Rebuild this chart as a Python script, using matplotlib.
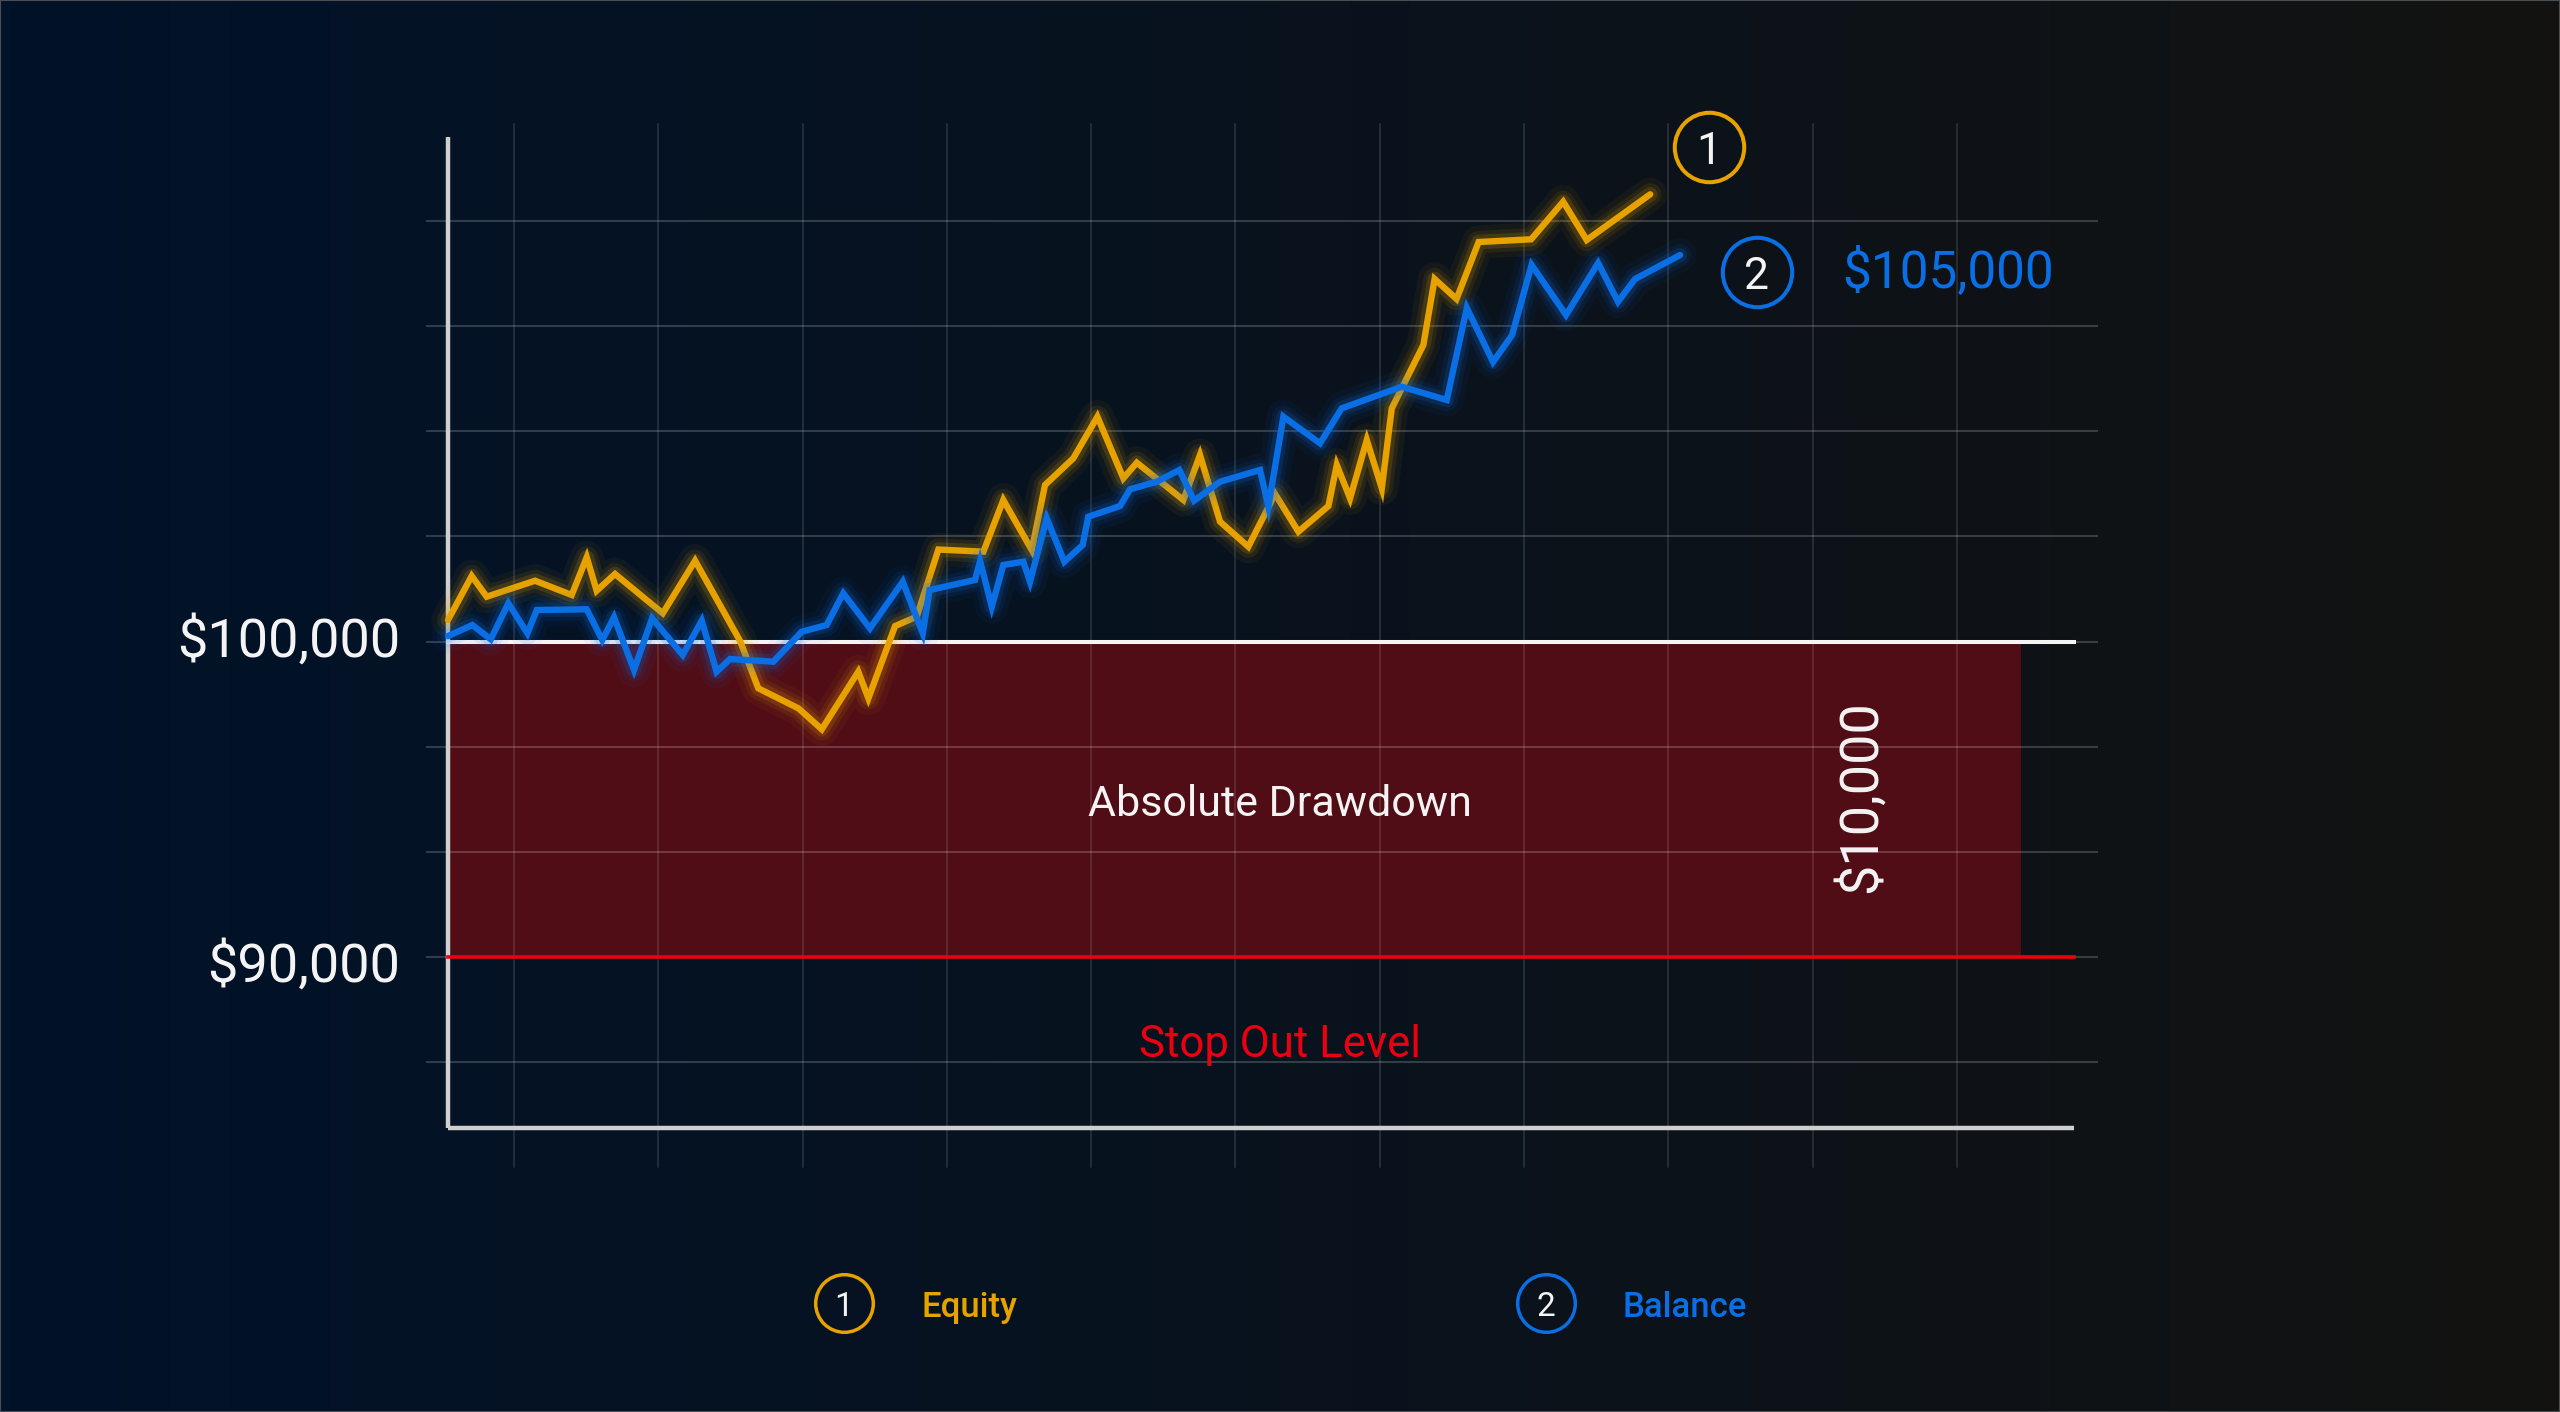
import numpy as np
import matplotlib
matplotlib.use("Agg")
import matplotlib.pyplot as plt
from matplotlib.colors import LinearSegmentedColormap
from matplotlib.patches import Rectangle

plt.rcParams['font.family'] = ['Roboto', 'DejaVu Sans']

# ---------------- data ----------------
equity_x = [0, 1.64, 2.68, 6.03, 8.57, 9.61, 10.30, 11.57, 14.88, 17.12, 20.24, 21.50,
            24.28, 25.90, 28.43, 29.13, 30.98, 32.48, 33.98, 37.10, 38.48, 40.45, 41.37,
            43.33, 45.00, 46.80, 47.73, 50.96, 52.11, 53.50, 55.46, 57.31, 58.93, 61.01,
            61.59, 62.51, 63.67, 64.71, 65.40, 67.59, 68.37, 69.89, 71.42, 75.06, 77.28,
            78.91, 83.31]
equity_y = [100682, 102076, 101420, 101927, 101474, 102669, 101610, 102140, 100894, 102561,
            100016, 98516, 97882, 97217, 99043, 98199, 100491, 100786, 102916, 102847,
            104486, 102901, 104961, 105807, 107126, 105173, 105668, 104486, 105912, 103798,
            103005, 104676, 103481, 104295, 105595, 104539, 106388, 104856, 107392, 109399,
            111491, 110857, 112664, 112750, 113942, 112728, 114176]

balance_x = [0, 1.68, 2.96, 4.18, 5.50, 6.15, 9.61, 10.69, 11.50, 12.89, 14.14, 16.26,
             17.58, 18.61, 19.54, 22.54, 24.51, 26.24, 27.39, 29.24, 31.51, 32.90, 33.37,
             36.52, 36.87, 37.68, 38.48, 39.87, 40.33, 41.49, 42.71, 43.98, 44.37, 46.57,
             47.26, 49.11, 50.68, 51.70, 53.50, 56.27, 56.85, 57.89, 60.43, 61.93, 66.09,
             69.21, 70.60, 72.42, 73.74, 75.09, 77.48, 79.70, 81.08, 82.26, 85.38]
balance_y = [100174, 100523, 100070, 101211, 100260, 100999, 101021, 100048, 100767, 99097,
             100735, 99572, 100659, 99043, 99445, 99360, 100311, 100523, 101528, 100418,
             101896, 100260, 101633, 101950, 102552, 101103, 102425, 102530, 101896, 103905,
             102530, 103059, 103956, 104295, 104825, 105066, 105437, 104463, 105066, 105437,
             104273, 107126, 106283, 107392, 108077, 107656, 110572, 108860, 109716, 111935,
             110350, 111998, 110772, 111491, 112252]

balance_level = 100000
stop_out_level = 90000
drawdown = balance_level - stop_out_level
ytick_labels = ['$100,000', '$90,000']
grid_y = [86667, 90000, 93333, 96667, 100000, 103333, 106667, 110000, 113333]
grid_x = [4.57 + 10 * k for k in range(11)]
series_names = ['Equity', 'Balance']
final_label = '$105,000'
drawdown_label = '$10,000'

# ---------------- styling ----------------
ORANGE = '#e7a200'
BLUE = '#0a6ee4'
RED = '#ec0010'
WHITE = '#f4f4f4'
SPINE = '#cfcfcf'

fig = plt.figure(figsize=(25.6, 14.12), dpi=100)
ax = fig.add_axes([0, 0, 1, 1])
X0, X1 = -31.05, 146.36
Y0, Y1 = 75575, 120336
ax.set_xlim(X0, X1)
ax.set_ylim(Y0, Y1)
ax.axis('off')

# background gradient
cmap = LinearSegmentedColormap.from_list('bg', [(0, '#011329'), (0.45, '#08121f'), (1.0, '#131211')])
grad = np.linspace(0, 1, 512).reshape(1, -1)
ax.imshow(grad, extent=[X0, X1, Y0, Y1], aspect='auto', cmap=cmap, zorder=0)

# thin frame border
fig.patches.append(Rectangle((0, 0), 1, 1, transform=fig.transFigure, fill=False,
                             edgecolor='#4a4d52', lw=1.5, zorder=10))

# drawdown rectangle
ax.add_patch(Rectangle((0, stop_out_level), 109.0, drawdown, facecolor='#510d16',
                       edgecolor='none', zorder=1))

# grid
for gy in grid_y:
    ax.plot([-1.46, 114.3], [gy, gy], color='white', alpha=0.18, lw=1.5, zorder=2)
for gx in grid_x:
    ax.plot([gx, gx], [83333, 116400], color='white', alpha=0.14, lw=1.1, zorder=2)

# spines
ax.plot([0, 0], [84578, 116000], color=SPINE, lw=3.2, zorder=3, solid_capstyle='butt')
ax.plot([0, 112.7], [84578, 84578], color=SPINE, lw=3.2, zorder=3, solid_capstyle='butt')

# level lines
ax.plot([0, 112.7], [balance_level, balance_level], color=WHITE, lw=2.9, zorder=4)
ax.plot([0, 112.7], [stop_out_level, stop_out_level], color=RED, lw=2.6, zorder=4)

# glowing series
def glow_line(x, y, color, z):
    for w, a in [(24, 0.05), (16, 0.09), (10.5, 0.16)]:
        ax.plot(x, y, color=color, lw=w, alpha=a, zorder=z, solid_joinstyle='round',
                solid_capstyle='round')
    ax.plot(x, y, color=color, lw=4.6, zorder=z + 0.5, solid_joinstyle='miter',
            solid_capstyle='round')

glow_line(equity_x, equity_y, ORANGE, 5)
glow_line(balance_x, balance_y, BLUE, 6)

# y labels
ax.text(-3.33, 99518, ytick_labels[0], color=WHITE, fontsize=39, ha='right', va='baseline', zorder=7)
ax.text(-3.33, 89216, ytick_labels[1], color=WHITE, fontsize=39, ha='right', va='baseline', zorder=7)

# annotations
ax.text(57.66, 94468, 'Absolute Drawdown', color=WHITE, fontsize=31, ha='center', va='baseline', zorder=7)
ax.text(57.66, 86829, 'Stop Out Level', color=RED, fontsize=31.5, ha='center', va='baseline', zorder=7)
ax.text(97.92, 95071, drawdown_label, color=WHITE, fontsize=39, ha='center', va='center',
        rotation=90, zorder=7)

# end markers
ax.plot([87.39], [115676], 'o', ms=50, mfc='none', mec=ORANGE, mew=2.9, zorder=7)
ax.text(87.39, 115676, '1', color=WHITE, fontsize=32, ha='center', va='center_baseline', zorder=8)
ax.plot([90.71], [111713], 'o', ms=50, mfc='none', mec=BLUE, mew=2.9, zorder=7)
ax.text(90.71, 111713, '2', color=WHITE, fontsize=32, ha='center', va='center_baseline', zorder=8)
ax.text(96.6, 111247, final_label, color=BLUE, fontsize=37, ha='left', va='baseline', zorder=7)

# legend
for cx, num, name, col, tx in [(27.42, '1', series_names[0], ORANGE, 32.84),
                               (76.06, '2', series_names[1], BLUE, 81.36)]:
    ax.plot([cx], [79021], 'o', ms=41.5, mfc='none', mec=col, mew=2.5, zorder=7)
    ax.text(cx, 79021, num, color=WHITE, fontsize=24, ha='center', va='center_baseline', zorder=8)
    ax.text(tx, 78596, name, color=col, fontsize=25, fontweight='medium', ha='left',
            va='baseline', zorder=8)

fig.savefig('out.png', dpi=100, facecolor=fig.get_facecolor())
